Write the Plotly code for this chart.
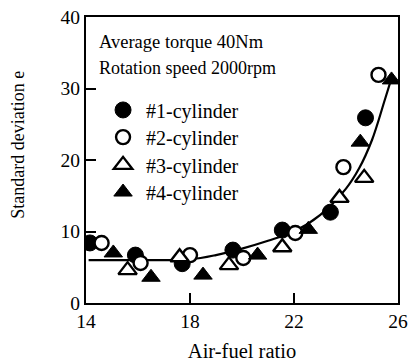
import plotly.graph_objects as go

# Data (air-fuel ratio vs standard deviation e)
cyl1_x = [14.15, 15.9, 17.7, 19.65, 21.55, 23.4, 24.75]
cyl1_y = [8.4, 6.7, 5.5, 7.4, 10.2, 12.7, 25.9]
cyl2_x = [14.6, 16.1, 18.0, 20.05, 22.05, 23.9, 25.25]
cyl2_y = [8.4, 5.6, 6.7, 6.3, 9.8, 19.0, 31.9]
cyl3_x = [15.6, 17.6, 19.5, 21.55, 23.75, 24.7]
cyl3_y = [4.6, 6.4, 5.3, 7.8, 14.7, 17.5]
cyl4_x = [15.05, 16.5, 18.5, 20.6, 22.55, 24.55, 25.75]
cyl4_y = [7.0, 3.6, 3.9, 6.7, 10.3, 22.5, 31.2]
fit_x = [14.1, 16, 18, 19, 20, 21, 22, 23, 24, 24.5, 25, 25.5, 25.8]
fit_y = [6.0, 6.0, 6.1, 6.7, 7.6, 8.7, 10.0, 12.3, 16.0, 18.8, 22.8, 28.5, 32.0]

x_ticks = [14, 18, 22, 26]
y_ticks = [0, 10, 20, 30, 40]
labels = ["#1-cylinder", "#2-cylinder", "#3-cylinder", "#4-cylinder"]
note_lines = ["Average torque 40Nm", "Rotation speed 2000rpm"]

FONT = "Liberation Serif"
MS = 16

fig = go.Figure()
fig.add_trace(go.Scatter(x=fit_x, y=fit_y, mode="lines", line=dict(color="black", width=2.2, shape="spline"),
                         showlegend=False, hoverinfo="skip"))
fig.add_trace(go.Scatter(x=cyl1_x, y=cyl1_y, mode="markers", name=labels[0], legend="legend",
                         marker=dict(symbol="circle", size=MS, color="black", line=dict(color="black", width=1))))
fig.add_trace(go.Scatter(x=cyl2_x, y=cyl2_y, mode="markers", name=labels[1], legend="legend2",
                         marker=dict(symbol="circle", size=MS - 2, color="white", line=dict(color="black", width=2.4))))
fig.add_trace(go.Scatter(x=cyl3_x, y=cyl3_y, mode="markers", name=labels[2], legend="legend3",
                         marker=dict(symbol="triangle-up", size=MS, color="white", line=dict(color="black", width=2.4))))
fig.add_trace(go.Scatter(x=cyl4_x, y=cyl4_y, mode="markers", name=labels[3], legend="legend4",
                         marker=dict(symbol="triangle-up", size=MS, color="black", line=dict(color="black", width=1))))

leg_common = dict(x=0.045, xanchor="left", yanchor="middle", bgcolor="rgba(0,0,0,0)",
                  font=dict(family=FONT, size=20), itemwidth=36)
leg_rows = [0.675, 0.580, 0.483, 0.388]

fig.update_layout(
    width=408, height=364,
    margin=dict(l=86, r=10, t=17, b=61),
    paper_bgcolor="white", plot_bgcolor="white",
    font=dict(family=FONT, size=18, color="black"),
    legend=dict(y=leg_rows[0], **leg_common),
    legend2=dict(y=leg_rows[1], **leg_common),
    legend3=dict(y=leg_rows[2], **leg_common),
    legend4=dict(y=leg_rows[3], **leg_common),
    xaxis=dict(range=[14, 26], tickvals=x_ticks, ticks="inside", ticklen=10, tickwidth=1.8, tickcolor="black",
               showline=True, linewidth=2, linecolor="black", mirror=True, showgrid=False, zeroline=False,
               tickfont=dict(family=FONT, size=19.5), automargin=False,
               title=dict(text="Air-fuel ratio", font=dict(family=FONT, size=20.5), standoff=12)),
    yaxis=dict(range=[0, 40], tickvals=y_ticks, ticks="inside", ticklen=10, tickwidth=1.8, tickcolor="black",
               showline=True, linewidth=2, linecolor="black", mirror=True, showgrid=False, zeroline=False,
               tickfont=dict(family=FONT, size=19.5), automargin=False),
    annotations=[
        dict(text=note_lines[0], xref="paper", yref="paper", x=0.035, y=0.9126,
             xanchor="left", yanchor="middle", showarrow=False, font=dict(family=FONT, size=18.5)),
        dict(text=note_lines[1], xref="paper", yref="paper", x=0.035, y=0.8217,
             xanchor="left", yanchor="middle", showarrow=False, font=dict(family=FONT, size=18)),
        dict(text="Standard deviation e", textangle=-90, xref="paper", yref="paper",
             x=-0.219, y=0.552, xanchor="center", yanchor="middle", showarrow=False,
             font=dict(family=FONT, size=18)),
    ],
)

fig.write_html("out.html")
